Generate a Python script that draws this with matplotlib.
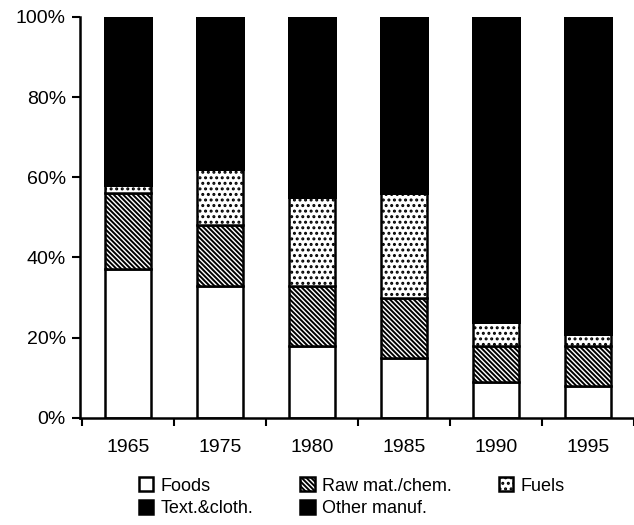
import matplotlib.pyplot as plt
import numpy as np

years = ["1965", "1975", "1980", "1985", "1990", "1995"]
foods = [37, 33, 18, 15, 9, 8]
raw_mat = [19, 15, 15, 15, 9, 10]
fuels = [2, 14, 22, 26, 6, 3]
text_cloth = [27, 20, 15, 12, 14, 22]
other_manuf = [100 - a - b - c - d for a, b, c, d in zip(foods, raw_mat, fuels, text_cloth)]

plt.rcParams['font.family'] = ['Liberation Sans', 'DejaVu Sans']
plt.rcParams['hatch.linewidth'] = 1.4

fig = plt.figure(figsize=(6.34, 5.25), dpi=100)
ax = fig.add_axes([0.126, 0.204, 0.874, 0.764])

x = np.arange(len(years))
w = 0.5
series = [
    ("Foods", foods, dict(facecolor="white", edgecolor="black")),
    ("Raw mat./chem.", raw_mat, dict(facecolor="white", edgecolor="black", hatch="\\" * 7)),
    ("Fuels", fuels, dict(facecolor="white", edgecolor="black", hatch="...")),
    ("Text.&cloth.", text_cloth, dict(facecolor="black", edgecolor="black", antialiased=False)),
    ("Other manuf.", other_manuf, dict(facecolor="black", edgecolor="black", antialiased=False)),
]

bottom = np.zeros(len(years))
handles = {}
for name, vals, style in series:
    bars = ax.bar(x, vals, w, bottom=bottom, linewidth=1.8, label=name, **style)
    handles[name] = bars
    bottom += np.array(vals)

ax.set_xlim(-0.52, 5.5)
ax.set_ylim(0, 100)
ax.set_yticks([0, 20, 40, 60, 80, 100])
ax.set_yticklabels(["0%", "20%", "40%", "60%", "80%", "100%"], fontsize=14)
ax.set_xticks(x)
ax.set_xticklabels(years, fontsize=14)
ax.tick_params(axis='x', which='major', length=0, pad=15)
ax.set_xticks(np.arange(-0.5, 6, 1), minor=True)
ax.tick_params(axis='x', which='minor', length=6, width=1.5, direction='out')
ax.tick_params(axis='y', length=6, width=1.5, direction='out', pad=4)

for s in ['top', 'right']:
    ax.spines[s].set_visible(False)
for s in ['left', 'bottom']:
    ax.spines[s].set_linewidth(1.8)

order = ["Foods", "Text.&cloth.", "Raw mat./chem.", "Other manuf.", "Fuels"]
fig.legend([handles[n] for n in order], order, ncol=3, loc='upper left',
           bbox_to_anchor=(0.205, 0.108), frameon=False, fontsize=13,
           handlelength=0.8, handleheight=0.8, handletextpad=0.4,
           columnspacing=2.6, labelspacing=0.3, borderpad=0)

plt.savefig('out.png', dpi=100)
